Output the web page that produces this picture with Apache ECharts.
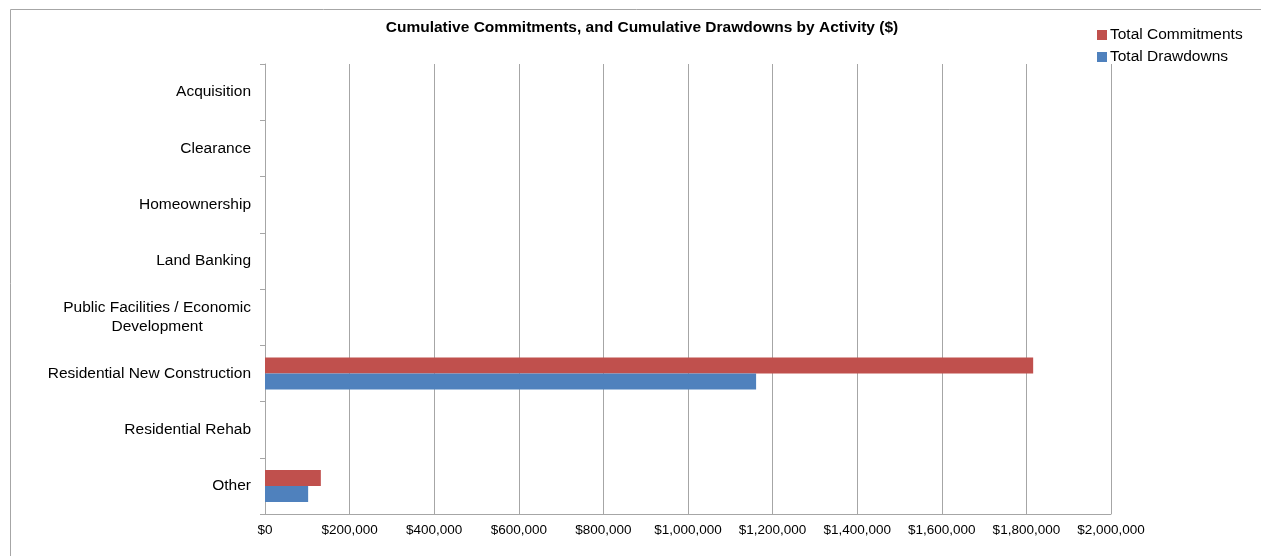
<!DOCTYPE html>
<html>
<head>
<meta charset="utf-8">
<script src="https://cdn.jsdelivr.net/npm/echarts@6/dist/echarts.min.js"></script>
<style>
html,body{margin:0;padding:0;background:#fff;}
#chart{width:1261px;height:556px;}
</style>
</head>
<body>
<div id="chart"></div>
<script>
var categories = ["Acquisition", "Clearance", "Homeownership", "Land Banking", "Public Facilities / Economic Development", "Residential New Construction", "Residential Rehab", "Other"];
var totalCommitments = [0, 0, 0, 0, 0, 1816000, 0, 132000];
var totalDrawdowns = [0, 0, 0, 0, 0, 1161000, 0, 102000];
var xMin = 0, xMax = 2000000, xStep = 200000;

var FONT = '"Liberation Sans", Arial, sans-serif';
var chart = echarts.init(document.getElementById('chart'));
chart.setOption({
  animation: false,
  backgroundColor: '#fff',
  graphic: [{
    type: 'rect', silent: true,
    shape: {x: 10.5, y: 9.5, width: 1400, height: 700},
    style: {fill: 'none', stroke: '#a6a6a6', lineWidth: 1}
  }],
  title: {
    text: 'Cumulative Commitments, and Cumulative Drawdowns by Activity ($)',
    left: 637, top: 15, textAlign: 'center',
    textStyle: {fontFamily: FONT, fontSize: 15.5, fontWeight: 'bold', color: '#000'}
  },
  legend: {
    orient: 'vertical', left: 1092, top: 22, itemWidth: 10, itemHeight: 10, itemGap: 6,
    icon: 'rect',
    textStyle: {fontFamily: FONT, fontSize: 15.5, color: '#000', padding: [0, 0, 0, -2]},
    data: ['Total Commitments', 'Total Drawdowns']
  },
  grid: {left: 265, right: 150, top: 64, bottom: 42, containLabel: false},
  xAxis: {
    type: 'value', min: xMin, max: xMax, interval: xStep,
    axisLine: {show: true, lineStyle: {color: '#a6a6a6'}},
    axisTick: {show: false},
    splitLine: {show: true, lineStyle: {color: '#a6a6a6'}},
    axisLabel: {
      fontFamily: FONT, fontSize: 13.5, color: '#000', margin: 9,
      formatter: function (v) { return '$' + v.toLocaleString('en-US'); }
    }
  },
  yAxis: {
    type: 'category', data: categories, inverse: true,
    axisLine: {show: true, lineStyle: {color: '#a6a6a6'}},
    axisTick: {show: true, length: 5, lineStyle: {color: '#a6a6a6'}},
    axisLabel: {
      fontFamily: FONT, fontSize: 15.5, color: '#000', margin: 14, lineHeight: 19,
      formatter: function (v) {
        if (v === 'Public Facilities / Economic Development') {
          return '{c|Public Facilities / Economic}\n{c|Development}';
        }
        return v;
      },
      rich: {c: {align: 'center', fontFamily: FONT, fontSize: 15.5, color: '#000', lineHeight: 19}}
    }
  },
  series: [
    {name: 'Total Commitments', type: 'bar', data: totalCommitments, barWidth: 16, barGap: '0%',
     itemStyle: {color: '#c0504d'}},
    {name: 'Total Drawdowns', type: 'bar', data: totalDrawdowns, barWidth: 16, barGap: '0%',
     itemStyle: {color: '#4f81bd'}}
  ]
});
</script>
</body>
</html>
